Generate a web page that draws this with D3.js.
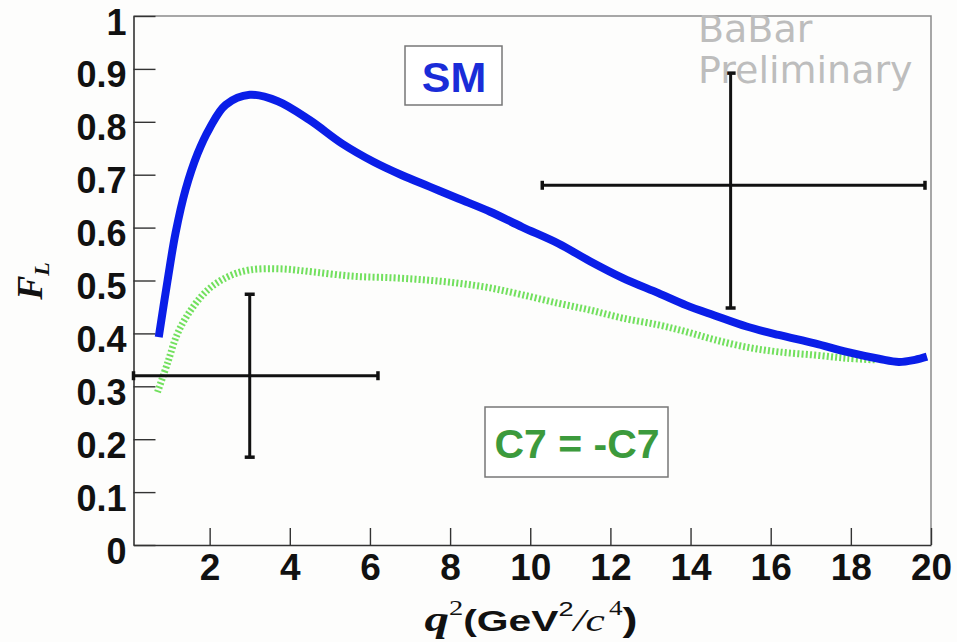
<!DOCTYPE html>
<html><head><meta charset="utf-8">
<script src="https://cdn.jsdelivr.net/npm/d3@7"></script>
<style>
html,body{margin:0;padding:0;background:#fdfdfc;}
svg{display:block;}
</style></head>
<body>
<svg id="chart" width="957" height="642"></svg>
<script>
// ---- data ----
const xTicks = [2,4,6,8,10,12,14,16,18,20];
const yTicks = [0,0.1,0.2,0.3,0.4,0.5,0.6,0.7,0.8,0.9,1];

const smQ  = [0.73,0.95,1.15,1.4,1.7,2.0,2.4,3.0,3.7,4.5,5.3,6.1,6.8,7.5,8.2,9.0,9.8,10.7,11.5,12.3,13.2,13.9,14.6,15.4,16.2,17.1,17.9,18.7,19.2,19.6,19.9];
const smFL = [0.393,0.50,0.59,0.672,0.74,0.788,0.832,0.851,0.839,0.803,0.759,0.724,0.699,0.677,0.655,0.630,0.601,0.570,0.536,0.505,0.476,0.453,0.434,0.413,0.397,0.381,0.365,0.352,0.346,0.350,0.356];

const flipQ  = [0.70,0.95,1.2,1.53,1.95,2.45,3.0,3.77,4.6,5.6,6.6,7.4,8.2,9.0,9.8,10.7,11.5,12.3,13.2,13.9,14.6,15.4,16.2,17.1,17.9,18.6];
const flipFL = [0.289,0.344,0.40,0.444,0.482,0.507,0.52,0.522,0.516,0.508,0.505,0.501,0.495,0.486,0.473,0.457,0.444,0.429,0.416,0.403,0.388,0.374,0.365,0.359,0.353,0.350];

const ptQ    = [3, 15];
const ptQlo  = [0.1, 10.3];
const ptQhi  = [6.2, 19.85];
const ptFL   = [0.32, 0.68];
const ptFLlo = [0.166, 0.448];
const ptFLhi = [0.474, 0.892];

// ---- layout ----
const svg = d3.select("#chart");
const L = 133.5, R = 931, T = 16, B = 545;
const x = d3.scaleLinear().domain([0.1, 20]).range([L, R]);
const y = d3.scaleLinear().domain([0, 1]).range([B, T]);

// frame (top/right)
svg.append("path")
  .attr("d", `M${L},${T}H${R}V${B}`)
  .attr("fill","none").attr("stroke","#8a8a8a").attr("stroke-width",1.5);

// axes
const yAxis = d3.axisLeft(y).tickValues(yTicks).tickFormat(d3.format("")).tickSizeInner(-22).tickSizeOuter(0).tickPadding(7);
const gy = svg.append("g").attr("transform",`translate(${L},0)`).call(yAxis);
gy.select(".domain").attr("stroke","#333").attr("stroke-width",1.6);
gy.selectAll(".tick line").attr("stroke","#333").attr("stroke-width",1.4);
gy.selectAll(".tick text")
  .attr("font-family","'Liberation Sans', Arial, sans-serif")
  .attr("font-weight","bold").attr("font-size",36).attr("fill","#111")
  .attr("dy","0.5em");

const xAxis = d3.axisBottom(x).tickValues(xTicks).tickFormat(d3.format("")).tickSizeInner(-17).tickSizeOuter(0).tickPadding(12);
const gx = svg.append("g").attr("transform",`translate(0,${B})`).call(xAxis);
gx.select(".domain").attr("stroke","#333").attr("stroke-width",1.6);
gx.selectAll(".tick line").attr("stroke","#333").attr("stroke-width",1.4);
gx.selectAll(".tick text")
  .attr("font-family","'Liberation Sans', Arial, sans-serif")
  .attr("font-weight","bold").attr("font-size",37).attr("fill","#111")
  .attr("dy","0.62em");

// curves
const line = d3.line().x(d=>x(d[0])).y(d=>y(d[1])).curve(d3.curveCatmullRom.alpha(0.5));
svg.append("path")
  .attr("d", line(d3.zip(flipQ, flipFL)))
  .attr("fill","none").attr("stroke","#72e05e").attr("stroke-width",7)
  .attr("stroke-dasharray","2,2.2");
svg.append("path")
  .attr("d", line(d3.zip(smQ, smFL)))
  .attr("fill","none").attr("stroke","#0a1ee8").attr("stroke-width",8)
  .attr("stroke-linejoin","round");

// error bars
const eb = svg.append("g").attr("stroke","#111").attr("stroke-width",3);
ptQ.forEach((q,i)=>{
  eb.append("line").attr("x1",x(ptQlo[i])).attr("x2",x(ptQhi[i])).attr("y1",y(ptFL[i])).attr("y2",y(ptFL[i]));
  eb.append("line").attr("x1",x(q)).attr("x2",x(q)).attr("y1",y(ptFLlo[i])).attr("y2",y(ptFLhi[i]));
  [ptQlo[i], ptQhi[i]].forEach(v=>{
    eb.append("line").attr("x1",x(v)).attr("x2",x(v)).attr("y1",y(ptFL[i])-4.5).attr("y2",y(ptFL[i])+4.5).attr("stroke-width",3.5);
  });
  [ptFLlo[i], ptFLhi[i]].forEach(v=>{
    eb.append("line").attr("x1",x(q)-5).attr("x2",x(q)+5).attr("y1",y(v)).attr("y2",y(v)).attr("stroke-width",3.5);
  });
});

// legend boxes
svg.append("rect").attr("x",405).attr("y",46).attr("width",97).attr("height",59)
  .attr("fill","#fff").attr("stroke","#777").attr("stroke-width",1.5);
svg.append("text").attr("x",454).attr("y",92).attr("text-anchor","middle")
  .attr("font-family","'Liberation Sans', Arial, sans-serif").attr("font-weight","bold")
  .attr("font-size",43).attr("fill","#1a2cd8").text("SM");

svg.append("rect").attr("x",485).attr("y",407).attr("width",183).attr("height",70)
  .attr("fill","#fff").attr("stroke","#777").attr("stroke-width",1.5);
svg.append("text").attr("x",577).attr("y",458).attr("text-anchor","middle")
  .attr("font-family","'Liberation Sans', Arial, sans-serif").attr("font-weight","bold")
  .attr("font-size",41).attr("fill","#3c9a3c").text("C7 = -C7");

// watermark
const wm = svg.append("text").attr("font-family","'DejaVu Sans', sans-serif")
  .attr("font-size",38).attr("fill","#bdbdbd");
wm.append("tspan").attr("x",698).attr("y",42).text("BaBar");
wm.append("tspan").attr("x",698).attr("y",83).text("Preliminary");

// axis titles
const xt = svg.append("text").attr("transform","translate(531,631) scale(1.36,1)").attr("text-anchor","middle").attr("fill","#111");
xt.append("tspan").attr("font-family","'Liberation Serif', 'Times New Roman', serif").attr("font-style","italic").attr("font-weight","bold").attr("font-size",36).text("q");
xt.append("tspan").attr("font-family","'Liberation Serif', serif").attr("font-size",21).attr("dy",-16).text("2");
xt.append("tspan").attr("font-family","'Liberation Sans', Arial, sans-serif").attr("font-weight","bold").attr("font-size",30).attr("dy",16).text("(GeV");
xt.append("tspan").attr("font-family","'Liberation Sans', Arial, sans-serif").attr("font-size",20).attr("dy",-15).text("2");
xt.append("tspan").attr("font-family","'Liberation Serif', serif").attr("font-style","italic").attr("font-size",32).attr("dy",15).text("/c");
xt.append("tspan").attr("font-family","'Liberation Serif', serif").attr("font-size",20).attr("dy",-16).attr("dx",3).text("4");
xt.append("tspan").attr("font-family","'Liberation Sans', Arial, sans-serif").attr("font-weight","bold").attr("font-size",33).attr("dy",16).text(")");

const yt = svg.append("text").attr("transform","translate(42,281) rotate(-90)").attr("text-anchor","middle").attr("fill","#111")
  .attr("font-family","'Liberation Serif', 'Times New Roman', serif").attr("font-style","italic").attr("font-weight","bold");
yt.append("tspan").attr("font-size",36).text("F");
yt.append("tspan").attr("font-size",22).attr("dy",7).text("L");
</script>
</body></html>
